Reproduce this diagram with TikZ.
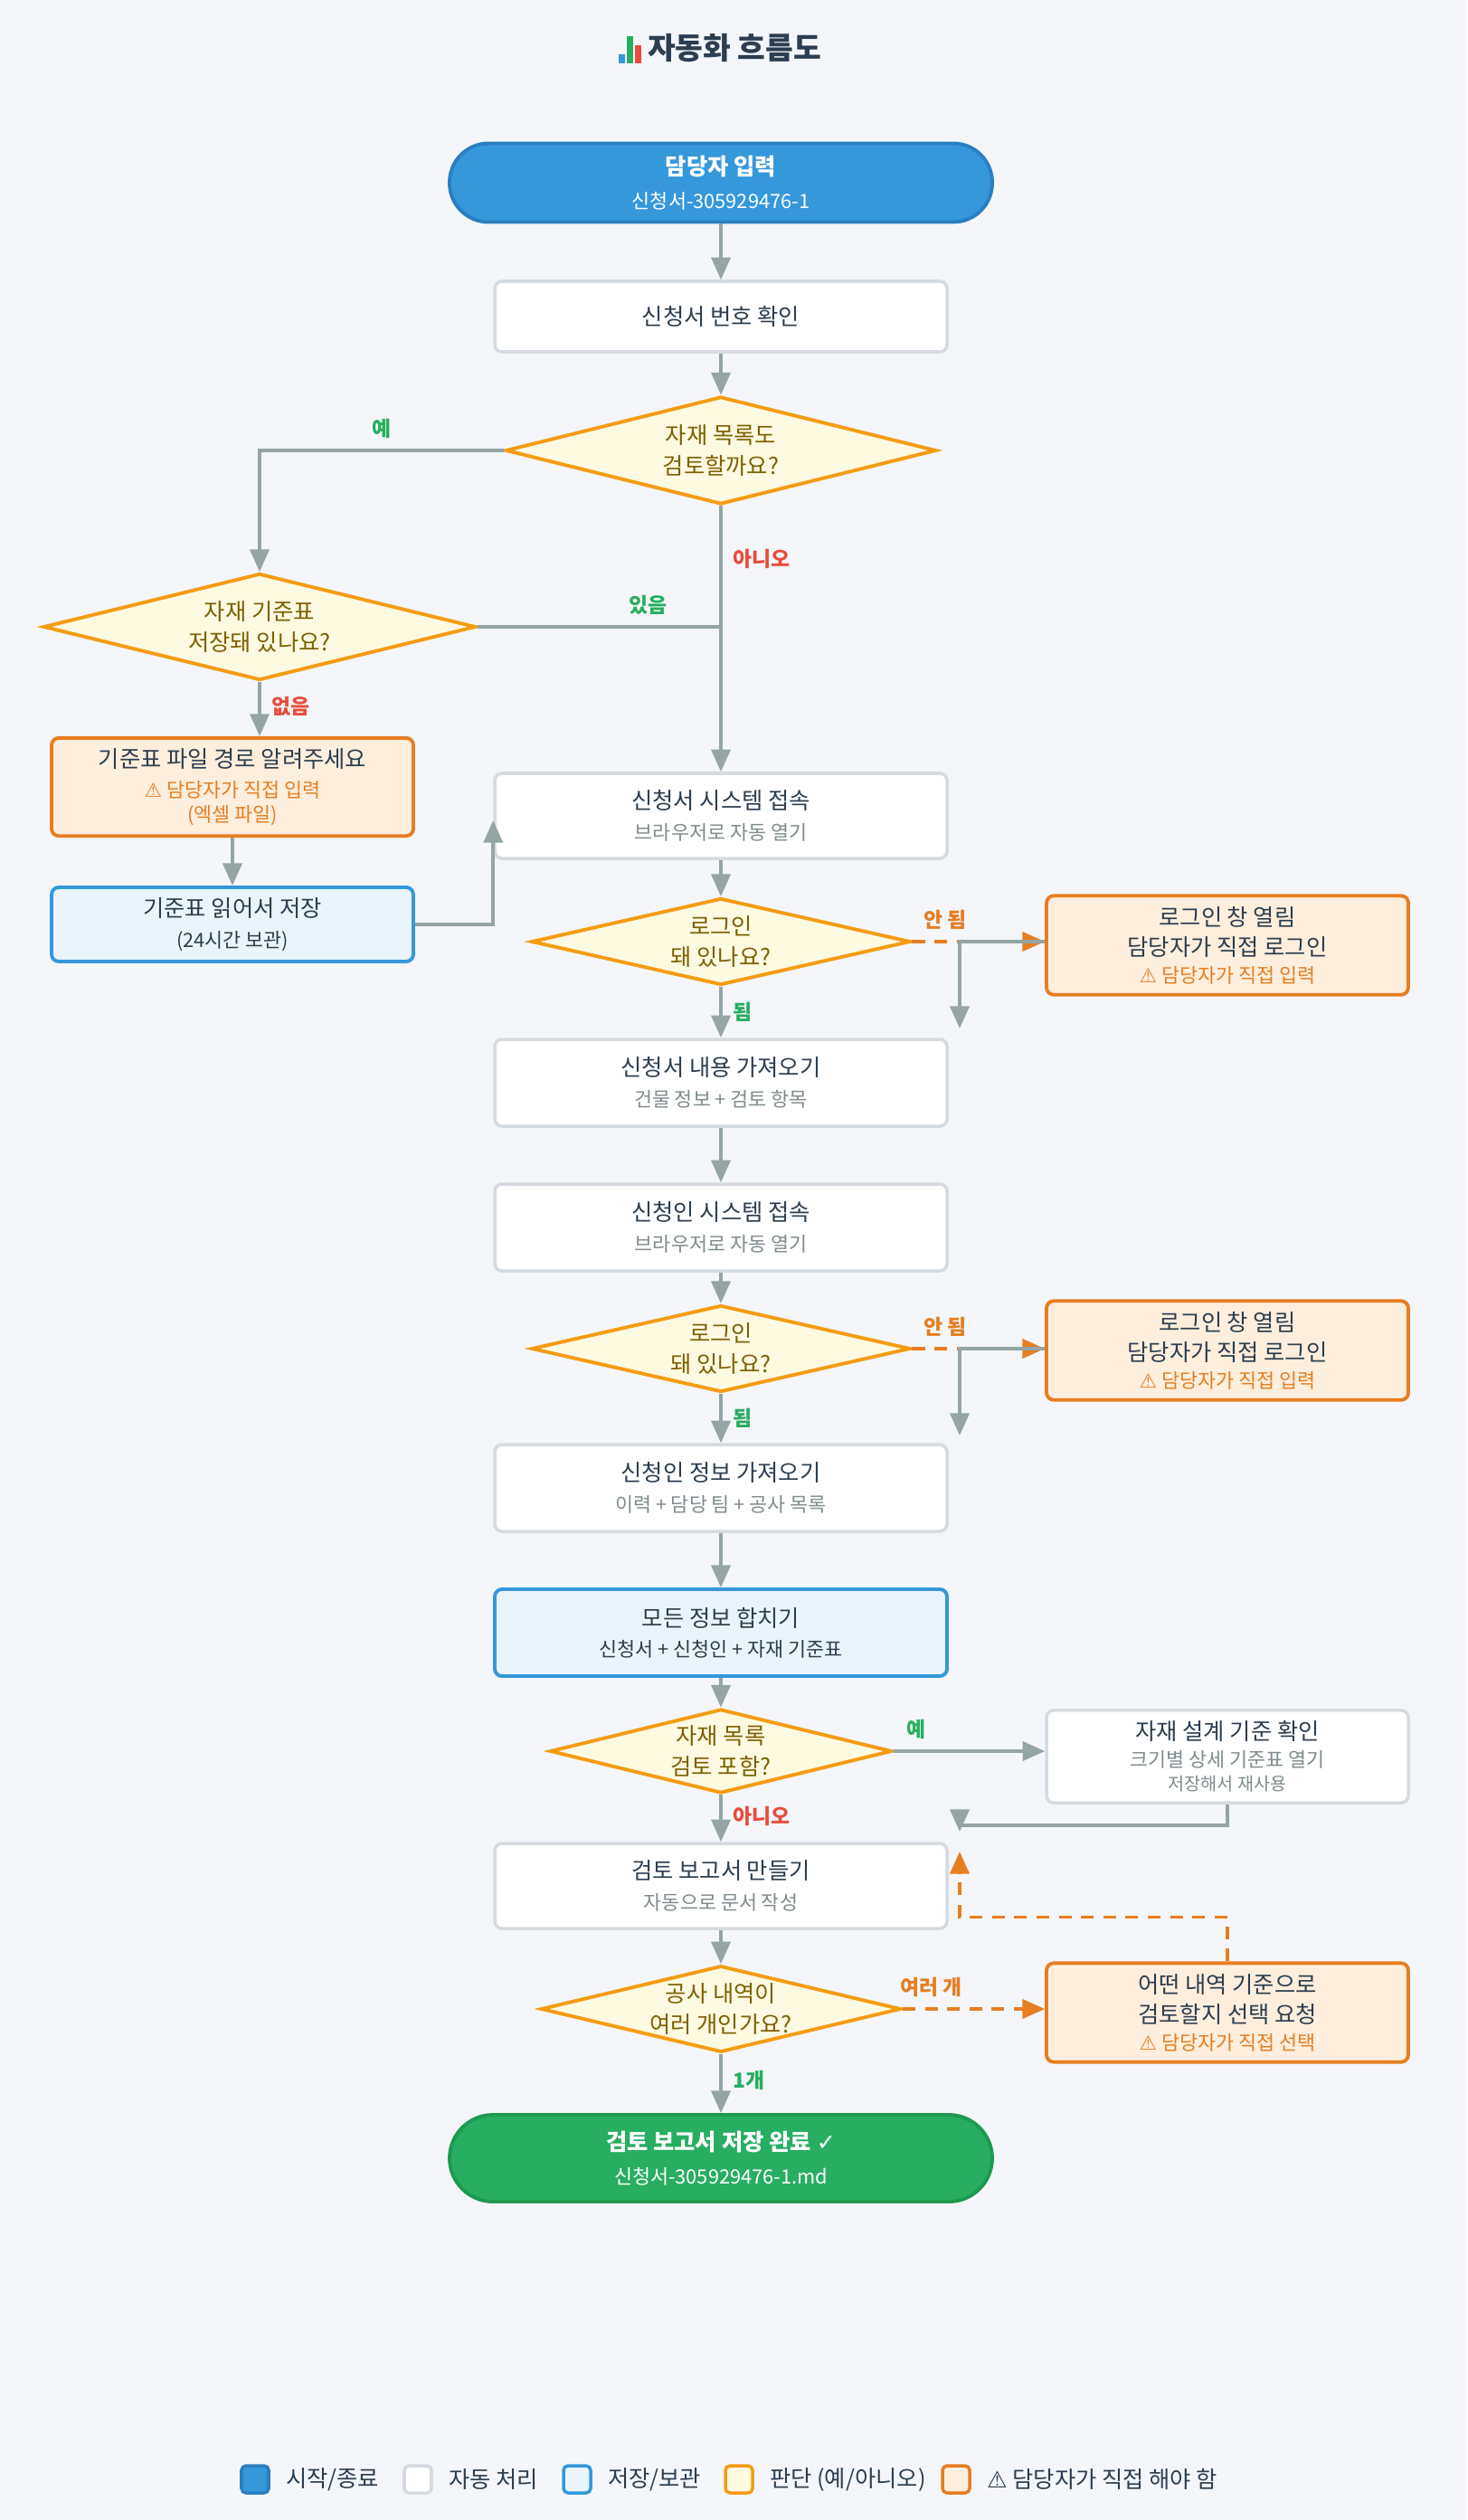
\documentclass[tikz,border=0pt]{standalone}
\usepackage{fontspec}
\setmainfont{Noto Sans CJK KR}
\newfontfamily\symfont{DejaVu Sans}
\usetikzlibrary{shapes.geometric,arrows.meta,positioning}

\definecolor{bgc}{HTML}{F4F6F9}
\definecolor{ink}{HTML}{2C3E50}
\definecolor{subink}{HTML}{7F8C8D}
\definecolor{flowc}{HTML}{95A5A6}
\definecolor{startc}{HTML}{3498DB}
\definecolor{startb}{HTML}{2B7FC0}
\definecolor{boxb}{HTML}{D5DBE1}
\definecolor{warnf}{HTML}{FDEEDD}
\definecolor{warnc}{HTML}{E67E22}
\definecolor{savef}{HTML}{EAF4FC}
\definecolor{decf}{HTML}{FEF9E1}
\definecolor{decb}{HTML}{F39C12}
\definecolor{dect}{HTML}{7D6000}
\definecolor{endc}{HTML}{27AE60}
\definecolor{endb}{HTML}{1E9A50}
\definecolor{noc}{HTML}{E74C3C}

\newcommand{\warnsign}{{\symfont ⚠}}
\newcommand{\subsz}{\fontsize{6.2}{8}\selectfont}

\begin{document}
\begin{tikzpicture}[font=\fontsize{7.2}{9.5}\selectfont]
    \tikzstyle{terminal} = [rectangle, rounded corners=0.43cm, draw=startb, line width=1.1pt, fill=startc, text=white, minimum width=6cm, minimum height=0.87cm, align=center]
    \tikzstyle{proc} = [rectangle, rounded corners=0.08cm, draw=boxb, line width=1pt, fill=white, text=ink, minimum width=5cm, minimum height=0.94cm, align=center]
    \tikzstyle{warn} = [rectangle, rounded corners=0.08cm, draw=warnc, line width=1.1pt, fill=warnf, text=ink, minimum width=4cm, minimum height=0.95cm, align=center]
    \tikzstyle{store} = [rectangle, rounded corners=0.08cm, draw=startc, line width=1.1pt, fill=savef, text=ink, minimum width=5cm, minimum height=0.95cm, align=center]
    \tikzstyle{decision} = [diamond, draw=decb, line width=1.1pt, fill=decf, text=dect, inner sep=0pt, aspect=4, align=center]
    \tikzstyle{flow} = [draw=flowc, line width=1pt, -{Triangle[length=7pt,width=6pt]}]
    \tikzstyle{flowline} = [draw=flowc, line width=1pt]
    \tikzstyle{ask} = [draw=warnc, line width=1pt, dash pattern=on 4pt off 3pt, -{Triangle[length=7pt,width=6pt]}]
    \tikzstyle{yes} = [text=endc, font=\fontsize{6.5}{8}\selectfont\bfseries]
    \tikzstyle{no} = [text=noc, font=\fontsize{6.5}{8}\selectfont\bfseries]
    \tikzstyle{retry} = [text=warnc, font=\fontsize{6.5}{8}\selectfont\bfseries]
    \tikzstyle{legbox} = [rectangle, rounded corners=0.05cm, line width=1pt, minimum size=0.3cm, inner sep=0pt]

    % background and frame
    \fill[bgc] (0,0) rectangle (16.22,-27.86);
    \useasboundingbox (0,0) rectangle (16.22,-27.86);

    % title
    \fill[startc] (6.84,-0.60) rectangle (6.91,-0.70);
    \fill[endc] (6.93,-0.40) rectangle (7.00,-0.70);
    \fill[noc] (7.02,-0.50) rectangle (7.09,-0.70);
    \node[text=ink, font=\fontsize{9.5}{11}\selectfont\bfseries] (title) at (8.12,-0.53) {자동화 흐름도};

    % main column
    \node[terminal] (start) at (7.97,-2.02) {{\bfseries 담당자 입력}\\[1pt]{\subsz 신청서-305929476-1}};
    \node[proc, minimum height=0.78cm] (check) at (7.97,-3.50) {신청서 번호 확인};
    \node[decision, minimum width=4.76cm, minimum height=1.19cm] (dlist) at (7.97,-4.98) {자재 목록도\\검토할까요?};
    \node[decision, minimum width=4.78cm, minimum height=1.18cm] (dstd) at (2.87,-6.93) {자재 기준표\\저장돼 있나요?};
    \node[warn] (askpath) at (2.57,-8.70) {기준표 파일 경로 알려주세요\\{\subsz\color{warnc}\warnsign\ 담당자가 직접 입력}\\[-2pt]{\subsz\color{warnc}(엑셀 파일)}};
    \node[store, minimum width=4cm, minimum height=0.79cm] (savestd) at (2.57,-10.22) {기준표 읽어서 저장\\{\subsz (24시간 보관)}};

    \node[proc] (sys1) at (7.97,-9.02) {신청서 시스템 접속\\{\subsz\color{subink} 브라우저로 자동 열기}};
    \node[decision, minimum width=4.19cm, minimum height=0.96cm] (log1) at (7.97,-10.41) {로그인\\돼 있나요?};
    \node[warn] (man1) at (13.57,-10.45) {로그인 창 열림\\담당자가 직접 로그인\\[-1pt]{\subsz\color{warnc}\warnsign\ 담당자가 직접 입력}};
    \node[proc, minimum height=0.96cm] (fetch1) at (7.97,-11.97) {신청서 내용 가져오기\\{\subsz\color{subink} 건물 정보 + 검토 항목}};

    \node[proc, minimum height=0.96cm] (sys2) at (7.97,-13.57) {신청인 시스템 접속\\{\subsz\color{subink} 브라우저로 자동 열기}};
    \node[decision, minimum width=4.19cm, minimum height=0.96cm] (log2) at (7.97,-14.91) {로그인\\돼 있나요?};
    \node[warn] (man2) at (13.57,-14.93) {로그인 창 열림\\담당자가 직접 로그인\\[-1pt]{\subsz\color{warnc}\warnsign\ 담당자가 직접 입력}};
    \node[proc, minimum height=0.96cm] (fetch2) at (7.97,-16.45) {신청인 정보 가져오기\\{\subsz\color{subink} 이력 + 담당 팀 + 공사 목록}};

    \node[store, minimum height=0.96cm] (merge) at (7.97,-18.05) {모든 정보 합치기\\{\subsz 신청서 + 신청인 + 자재 기준표}};
    \node[decision, minimum width=3.78cm, minimum height=0.93cm] (dinc) at (7.97,-19.36) {자재 목록\\검토 포함?};
    \node[proc, minimum width=4cm, minimum height=0.96cm] (design) at (13.57,-19.42) {자재 설계 기준 확인\\[-1pt]{\subsz\color{subink} 크기별 상세 기준표 열기}\\[-2pt]{\fontsize{5.6}{7}\selectfont\color{subink} 저장해서 재사용}};
    \node[proc] (report) at (7.97,-20.85) {검토 보고서 만들기\\{\subsz\color{subink} 자동으로 문서 작성}};
    \node[decision, minimum width=3.98cm, minimum height=0.91cm] (dmulti) at (7.97,-22.21) {공사 내역이\\여러 개인가요?};
    \node[warn] (pick) at (13.57,-22.25) {어떤 내역 기준으로\\검토할지 선택 요청\\[-1pt]{\subsz\color{warnc}\warnsign\ 담당자가 직접 선택}};
    \node[terminal, fill=endc, draw=endb, minimum height=0.96cm, rounded corners=0.48cm] (done) at (7.97,-23.86) {{\bfseries 검토 보고서 저장 완료 {\symfont ✓}}\\[1pt]{\subsz 신청서-305929476-1.md}};

    % free ends
    \coordinate (join1) at (7.97,-6.93);
    \coordinate (back1) at (10.61,-11.37);
    \coordinate (back2) at (10.61,-15.87);
    \coordinate (back3) at (10.61,-20.25);
    \coordinate (back4) at (10.61,-20.47);

    % connectors
    \draw[flow] (start) -- (check);
    \draw[flow] (check) -- (dlist);
    \draw[flow] (dlist.west) -| node[yes, pos=0.25, above] {예} (dstd.north);
    \draw[flow] (dlist.south) -- node[no, pos=0.2, right] {아니오} (sys1.north);
    \draw[flowline] (dstd.east) -- node[yes, pos=0.7, above] {있음} (join1);
    \draw[flow] (dstd.south) -- node[no, pos=0.45, right] {없음} (askpath.north -| dstd.south);
    \draw[flow] (askpath.south -| savestd.north) -- (savestd.north);
    \draw[flow] (savestd.east) -| ([yshift=-0.05cm]sys1.west);

    \draw[flow] (sys1) -- (log1);
    \draw[ask] (log1.east) -- node[retry, pos=0.25, above] {안 됨} (man1.west |- log1.east);
    \draw[flow] (man1.west |- log1.east) -| (back1);
    \draw[flow] (log1.south) -- node[yes, pos=0.5, right] {됨} (fetch1.north);
    \draw[flow] (fetch1) -- (sys2);
    \draw[flow] (sys2) -- (log2);
    \draw[ask] (log2.east) -- node[retry, pos=0.25, above] {안 됨} (man2.west |- log2.east);
    \draw[flow] (man2.west |- log2.east) -| (back2);
    \draw[flow] (log2.south) -- node[yes, pos=0.5, right] {됨} (fetch2.north);
    \draw[flow] (fetch2) -- (merge);
    \draw[flow] (merge) -- (dinc);
    \draw[flow] (dinc.east) -- node[yes, pos=0.15, above] {예} (design.west |- dinc.east);
    \draw[flow] (dinc.south) -- node[no, pos=0.45, right] {아니오} (report.north);
    \draw[flow] (design.south) |- ([yshift=-0.23cm]design.south -| back3) -- (back3);
    \draw[flow] (report) -- (dmulti);
    \draw[ask] (dmulti.east) -- node[retry, pos=0.2, above] {여러 개} (pick.west |- dmulti.east);
    \draw[ask] (pick.north) |- ([yshift=0.49cm]pick.north -| back4) -- (back4);
    \draw[flow] (dmulti.south) -- node[yes, pos=0.45, right] {1개} (done.north);

    % legend
    \node[legbox, draw=startb, fill=startc] (lg1) at (2.82,-27.41) {};
    \node[right=0.05cm of lg1, text=ink] (lt1) {시작/종료};
    \node[legbox, draw=boxb, fill=white] (lg2) at (4.62,-27.41) {};
    \node[right=0.05cm of lg2, text=ink] (lt2) {자동 처리};
    \node[legbox, draw=startc, fill=savef] (lg3) at (6.38,-27.41) {};
    \node[right=0.05cm of lg3, text=ink] (lt3) {저장/보관};
    \node[legbox, draw=decb, fill=decf] (lg4) at (8.17,-27.41) {};
    \node[right=0.05cm of lg4, text=ink] (lt4) {판단 (예/아니오)};
    \node[legbox, draw=warnc, fill=warnf] (lg5) at (10.57,-27.41) {};
    \node[right=0.05cm of lg5, text=ink] (lt5) {\warnsign\ 담당자가 직접 해야 함};
\end{tikzpicture}
\end{document}
